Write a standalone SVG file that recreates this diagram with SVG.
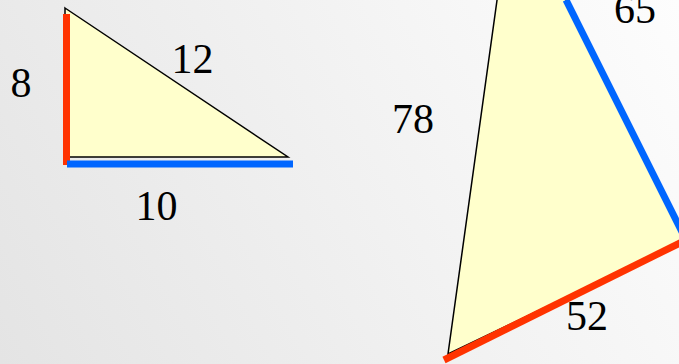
<svg xmlns="http://www.w3.org/2000/svg" width="679" height="364" viewBox="0 0 679 364">
  <defs>
    <linearGradient id="bg" x1="679" y1="0" x2="0" y2="364" gradientUnits="userSpaceOnUse">
      <stop offset="0" stop-color="#fdfdfd"/>
      <stop offset="1" stop-color="#e4e4e4"/>
    </linearGradient>
  </defs>
  <style>
    .tri { fill: #ffffcc; stroke: #000000; stroke-width: 1.5; stroke-linejoin: miter; }
    .red { stroke: #ff3300; stroke-width: 7; fill: none; }
    .blue { stroke: #0066ff; stroke-width: 7; fill: none; }
    .lbl { font-family: "Liberation Serif", "Times New Roman", serif; font-size: 42px; fill: #000000; text-anchor: middle; }
  </style>
  <rect x="0" y="0" width="679" height="364" fill="url(#bg)"/>
  <g id="triangle-left">
    <polygon class="tri" points="65,8 288,157 65,157"/>
  </g>
  <g id="triangle-right">
    <polygon class="tri" points="512,-108 686,240 448,354"/>
  </g>
  <g id="connectors">
    <line class="red" x1="66.5" y1="14" x2="66.5" y2="165"/>
    <line class="blue" x1="67" y1="164" x2="293" y2="164"/>
    <line class="blue" x1="566" y1="0" x2="686" y2="240"/>
    <line class="red" x1="444" y1="360" x2="686" y2="240"/>
  </g>
  <g id="labels">
    <text class="lbl" x="21" y="97">8</text>
    <text class="lbl" x="192.5" y="73">12</text>
    <text class="lbl" x="156.5" y="220">10</text>
    <text class="lbl" x="635" y="23">65</text>
    <text class="lbl" x="413" y="133">78</text>
    <text class="lbl" x="587" y="330">52</text>
  </g>
</svg>
